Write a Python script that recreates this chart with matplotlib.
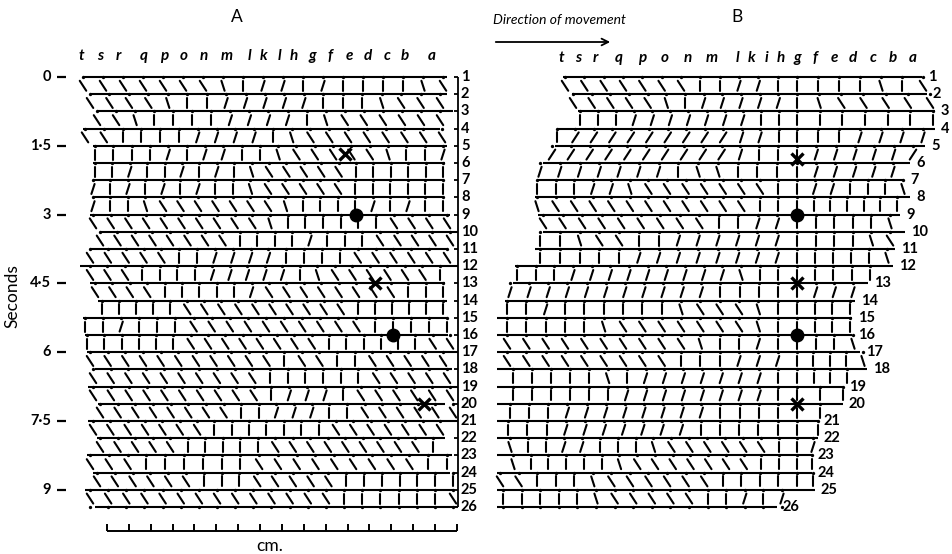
import numpy as np
import matplotlib.pyplot as plt
from matplotlib.collections import LineCollection
from matplotlib.patches import FancyArrowPatch

plt.rcParams['font.family'] = ['Lato', 'DejaVu Sans']

# ---- data ----
frames = np.arange(1, 27)
frame_step = 0.375                      # seconds between frames
sec_ticks = [0, 1.5, 3, 4.5, 6, 7.5, 9]
sec_labels = ['0', '1·5', '3', '4·5', '6', '7·5', '9']

a_letters = ['t', 's', 'r', 'q', 'p', 'o', 'n', 'm', 'l', 'k', 'l', 'h', 'g', 'f', 'e', 'd', 'c', 'b', 'a']
a_letter_x = [81, 100, 118, 144, 164, 184, 204, 227, 249, 264, 279, 294, 312, 330, 349, 368, 387, 405, 432]
b_letters = ['t', 's', 'r', 'q', 'p', 'o', 'n', 'm', 'l', 'k', 'i', 'h', 'g', 'f', 'e', 'd', 'c', 'b', 'a']
b_letter_x = [561, 578, 595, 619, 642, 665, 688, 712, 737, 752, 767, 781, 797, 815, 834, 853, 873, 893, 913]

# body lines (one per frame): left and right ends
a_line_start = [83, 90, 97, 83, 93, 93, 93, 93, 90, 100, 90, 80, 90, 98, 83, 85, 87, 95, 88, 98, 88, 97, 87, 93, 85, 95]
a_line_end = [447, 447, 453, 440, 447, 445, 443, 443, 450, 457, 448, 458, 445, 447, 448, 448, 458, 452, 458, 445, 458, 445, 452, 450, 453, 458]
b_line_start = [563, 572, 578, 557, 555, 543, 537, 535, 538, 543, 535, 515, 513, 505, 497, 497, 497, 497, 497, 497, 497, 497, 497, 497, 497, 497]
b_line_end = [922, 927, 935, 935, 925, 910, 904, 910, 900, 905, 895, 893, 868, 855, 852, 852, 860, 867, 843, 843, 818, 818, 812, 812, 815, 777]

# legs between frame i and i+1: first/last leg x and leg slants
# L strong "\", l slight "\", I upright, r slight "/", R strong "/", G reference leg g
a_row_x0 = [83, 90, 97, 85, 95, 95, 93, 93, 93, 100, 90, 90, 95, 102, 85, 87, 90, 93, 93, 100, 93, 100, 90, 97, 90]
a_row_x1 = [443, 440, 440, 442, 443, 443, 443, 443, 447, 450, 447, 440, 443, 443, 447, 450, 443, 447, 450, 453, 440, 433, 447, 453, 453]
a_slants = [
    "LLLLLLLlIrrIrIIIIlL",
    "LLLLlIIrrrrrIIIlLLL",
    "LLlIIIIrrrrIlLLLLLL",
    "LLIIIIrrrrIlLLLLLLLL",
    "IIIIrIrrIIlLLLLLlIIr",
    "IIrIIrIrIlLLLLLIIIIII",
    "rIrIrIrIIlLLLLLIIIIII",
    "rIIlLLLLLLLlIIIIrIrII",
    "LLLLLLLLLLlIIIIIILLLL",
    "LLLLLLLLIIIIrIIILLLLL",
    "LLLLLIIrrrrIIIILLLLLL",
    "LLLIIIIrrrrrIlLLLLLLI",
    "LLLLIIIIIrLLLLLLLLIII",
    "IIIIILLLLLLLLLLIIIIII",
    "IIrIIILLLLLLLLLLIIIII",
    "IIIIIILLLLLLLLIIIIIILL",
    "LLLLLLLLLLLILLIILLLLL",
    "LLLLLLLLLLIIIIIILLLLL",
    "LLLLLLLLLLIrrrILLLLLL",
    "LLLLLLLLIIrrrIILLLLLL",
    "LLLLLLLIIIIIIILLLLLLL",
    "LLLLLIIIIILLLLLLLLLI",
    "LLLIIIIIILLLLLLLLLII",
    "LLLLLLIIILLLLLIIIIIII",
    "LLLLLLLLLLLLLLIIIIIIL",
]
b_row_x0 = [565, 573, 580, 557, 552, 540, 537, 537, 543, 540, 540, 517, 510, 507, 507, 507, 507, 513, 513, 510, 508, 510, 513, 500, 503]
b_row_x1 = [923, 930, 933, 923, 913, 893, 903, 897, 890, 890, 887, 870, 853, 850, 850, 853, 863, 847, 843, 820, 818, 813, 812, 813, 782]
b_slants = [
    "LLLLLLLIIrrIGIIIlIL",
    "LLLLLlIrrrrrGlLLLLL",
    "IIIrrrrrrrIIGIIIIII",
    "IRRRRRRRRRrrIGIIrrrr",
    "RRRRRRRRRRrIIGrrrrrR",
    "rrrrrrrIllIIIGrrrrr",
    "IIIrrlLLLLLLLIGrrIIIl",
    "lLLLLLLLLLLLIIGIIIIII",
    "LLLLLLLLLIIrrGIIIIl",
    "IIlLLIIrrrrrrGIIIlL",
    "IIIIIrrrrrrrrGIIIIl",
    "IIIrrrrrrrrrlIIGIIII",
    "rrrrrrrrrrrIIIIGrrr",
    "IIrIIIIIIlLLLlIGIII",
    "IIIIIlLLLLLLLlIGIII",
    "LLLLLLLLLLlIIrIGIIl",
    "LLLLLLLLLIIIrrrGIIIl",
    "IIIIIlIrrrrrrrIGIII",
    "IIIIIIrrrrrrrrIGII",
    "IIIrrrrrrrrIIIIGI",
    "IIIrrrrrrrIIIIIGI",
    "lIIrrIIIlLLLLLLIGr",
    "lIIIIIlLLLLLLLIIGI",
    "LLIIIlLLLLLLIIIIGI",
    "IIIIIlLLLLLIIrIr",
]
b_ref_x = 797     # leg g held fixed in B

# marked leg: (marker, x, frame)
a_marks = [('x', 345, 5.5), ('o', 356, 9), ('x', 375, 13), ('o', 393, 16), ('x', 424, 20)]
b_marks = [('x', 797, 5.75), ('o', 797, 9), ('x', 797, 13), ('o', 797, 16), ('x', 797, 20)]

scale_x0, scale_x1, scale_div = 107, 457, 16

slant_dx = {'L': 6.5, 'l': 3.2, 'I': 0.0, 'r': -3.2, 'R': -6.5, 'G': 0.0}

# ---- figure ----
PX0, DY = 77.0, 17.2          # pixel row of frame 1, pixels per frame


def fy(px):
    return 1 + (px - PX0) / DY


fig = plt.figure(figsize=(9.53, 5.54), dpi=100)
ax = fig.add_axes([0, 0, 1, 1])
ax.set_xlim(0, 953)
ax.set_ylim(fy(554), fy(0))
ax.axis('off')


def leg_x(x0, x1, s, gx=None):
    n = len(s)
    if gx is not None and 'G' in s:
        k = s.index('G')
        left = np.linspace(x0, gx, k + 1)
        right = np.linspace(gx, x1, n - k)
        return np.concatenate([left, right[1:]])
    return np.linspace(x0, x1, n)


def draw_panel(starts, ends, x0s, x1s, slants, gx=None):
    ax.hlines(frames, starts, ends, color='black', lw=1.5)
    segs = []
    dots_x, dots_y = [], []
    for i, s in enumerate(slants):
        xs = leg_x(x0s[i], x1s[i], s, gx)
        f = frames[i]
        for x, c in zip(xs, s):
            d = slant_dx[c]
            segs.append([(x - d / 2, f + 0.22), (x + d / 2, f + 0.80)])
        dots_x.extend(xs)
        dots_y.extend([f] * len(xs))
        if i == len(slants) - 1:
            dots_x.extend(xs)
            dots_y.extend([f + 1] * len(xs))
    ax.add_collection(LineCollection(segs, colors='black', linewidths=1.5, capstyle='round'))
    ax.plot(dots_x, dots_y, 'o', color='black', ms=2.4, mew=0)


draw_panel(a_line_start, a_line_end, a_row_x0, a_row_x1, a_slants)
draw_panel(b_line_start, b_line_end, b_row_x0, b_row_x1, b_slants, gx=b_ref_x)

for marks in (a_marks, b_marks):
    for m, x, f in marks:
        if m == 'x':
            ax.plot(x, f, marker='x', color='black', ms=9, mew=2.4)
        else:
            ax.plot(x, f, marker='o', color='black', ms=9)

# segment letters
for lab, x in zip(a_letters, a_letter_x):
    ax.text(x, fy(56), lab, ha='center', va='center', fontsize=11, fontstyle='italic', fontweight='bold')
for lab, x in zip(b_letters, b_letter_x):
    ax.text(x, fy(58), lab, ha='center', va='center', fontsize=11, fontstyle='italic', fontweight='bold')

# frame numbers: A on a ruled scale, B at line ends
ax.vlines(458, frames[0], frames[-1], color='black', lw=1.3)
ax.hlines(frames, 454, 458, color='black', lw=1.3)
for f in frames:
    ax.text(461, f, str(f), ha='left', va='center', fontsize=10.5, fontweight='bold')
for f, e in zip(frames, b_line_end):
    ax.text(e + 6, f, str(f), ha='left', va='center', fontsize=10.5, fontweight='bold')

# time axis
for t, lab in zip(sec_ticks, sec_labels):
    f = t / frame_step + 1
    ax.hlines(f, 57, 66, color='black', lw=1.6)
    ax.text(51, f, lab, ha='right', va='center', fontsize=10.5, fontweight='bold')
ax.text(12, fy(296), 'Seconds', rotation=90, ha='center', va='center', fontsize=12.5)

# cm scale
sx = np.linspace(scale_x0, scale_x1, scale_div + 1)
ax.hlines(fy(531), scale_x0, scale_x1, color='black', lw=1.4)
ax.vlines(sx, fy(531), fy(524), color='black', lw=1.4)
ax.text(270, fy(546), 'cm.', ha='center', va='center', fontsize=12.5)

# headings
ax.text(237, fy(17), 'A', ha='center', va='center', fontsize=12.5)
ax.text(737, fy(17), 'B', ha='center', va='center', fontsize=12.5)
ax.text(493, fy(20), 'Direction of movement', ha='left', va='center', fontsize=10, fontstyle='italic')
ax.add_patch(FancyArrowPatch((493, fy(42)), (613, fy(42)), arrowstyle='->', mutation_scale=12,
                             color='black', lw=1.3))

fig.savefig('out.png', dpi=100, facecolor='white')
